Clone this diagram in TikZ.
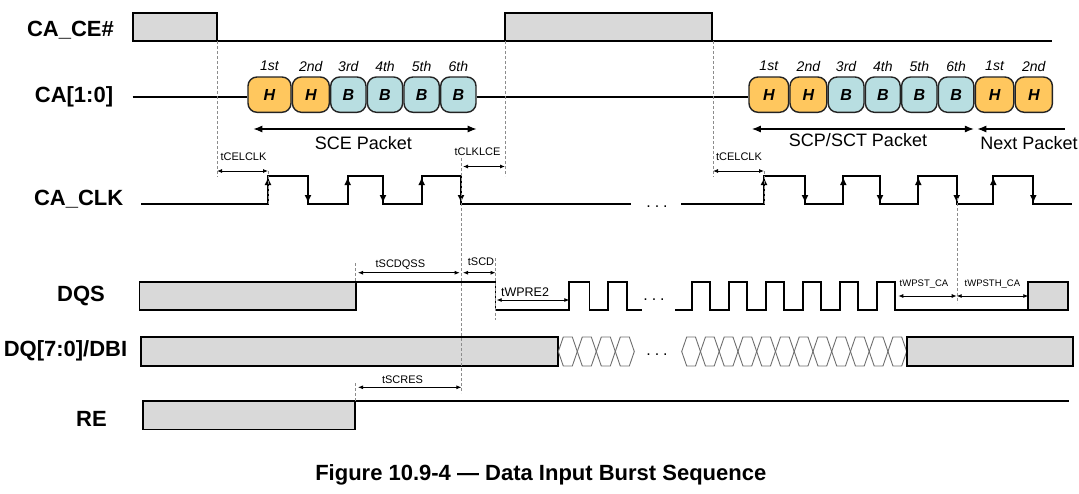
\documentclass[tikz,border=0pt]{standalone}
\usepackage{fontspec}
\setmainfont{Liberation Sans}
\usepackage{tikz}
\usetikzlibrary{arrows.meta}

\definecolor{busgray}{RGB}{217,217,217}
\definecolor{hfill}{RGB}{255,199,94}
\definecolor{bfill}{RGB}{184,222,225}
\definecolor{pillline}{RGB}{35,35,35}
\definecolor{hexgray}{RGB}{110,110,110}
\definecolor{guidegray}{RGB}{140,140,140}

\begin{document}
\begin{tikzpicture}[x=1pt,y=-1pt,
    sig/.style={line width=1.8pt},
    box/.style={line width=1.8pt, fill=busgray},
    caline/.style={line width=2.6pt},
    pill/.style={draw=pillline, line width=1.4pt, rounded corners=9pt},
    hex/.style={draw=hexgray, line width=0.9pt},
    guide/.style={draw=guidegray, line width=0.6pt, dash pattern=on 3pt off 2pt},
    tarr/.style={{Latex[length=5pt,width=4pt]}-{Latex[length=5pt,width=4pt]}, line width=0.8pt},
    parr/.style={{Latex[length=9pt,width=7pt]}-{Latex[length=9pt,width=7pt]}, line width=1.2pt},
    edgearr/.style={-{Latex[length=8pt,width=7pt]}, line width=1.6pt},
    lbl/.style={font=\fontsize{22}{26}\selectfont\bfseries, inner sep=0pt},
    tlbl/.style={font=\fontsize{11}{13}\selectfont, inner sep=0pt},
    ord/.style={font=\fontsize{14}{16}\selectfont\itshape, inner sep=0pt},
    plbl/.style={font=\fontsize{18}{21}\selectfont, inner sep=0pt},
    dots/.style={font=\fontsize{16}{18}\selectfont, inner sep=0pt, anchor=base}]

    \useasboundingbox (0,0) rectangle (1079,493);

    % Signal names
    \node[lbl] (nce)  at (70.5,30)  {CA\_CE\#};
    \node[lbl] (nca)  at (74,97)    {CA[1:0]};
    \node[lbl] (nclk) at (78.7,199) {CA\_CLK};
    \node[lbl] (ndqs) at (81,296)   {DQS};
    \node[lbl] (ndq)  at (65.5,351) {DQ[7:0]/DBI};
    \node[lbl] (nre)  at (91.5,419) {RE};

    % CA_CE#
    \draw[box] (132.6,13) rectangle (217,41);
    \draw[sig] (217,41) -- (505,41);
    \draw[box] (505,13) rectangle (712,41);
    \draw[sig] (712,41) -- (1052,41);

    % CA[1:0] packets
    \draw[caline] (132.6,97) -- (247.3,97);
    \draw[caline] (476.7,97) -- (748.3,97);
    \foreach \a/\b/\t/\n/\c in {247.3/291.7/H/1st/hfill, 291.7/330/H/2nd/hfill,
        330/366.7/B/3rd/bfill, 366.7/403.3/B/4th/bfill, 403.3/440/B/5th/bfill,
        440/476.7/B/6th/bfill, 748.3/789.3/H/1st/hfill, 789.3/827.5/H/2nd/hfill,
        827.5/864.7/B/3rd/bfill, 864.7/900.9/B/4th/bfill, 900.9/937.7/B/5th/bfill,
        937.7/974.6/B/6th/bfill, 974.6/1014.5/H/1st/hfill, 1014.5/1053.1/H/2nd/hfill} {
        \draw[pill, fill=\c] (\a+0.7,77) rectangle (\b-0.7,112.3);
        \node[font=\fontsize{16}{18}\selectfont\bfseries\itshape] (p\a) at ({(\a+\b)/2},95) {\t};
        \node[ord] (o\a) at ({(\a+\b)/2},66) {\n};
    }

    % packet extents
    \coordinate (sceL) at (253.3,129);
    \coordinate (sceR) at (476.7,129);
    \coordinate (scpL) at (751.8,129);
    \coordinate (scpR) at (973.9,129);
    \coordinate (nxtL) at (977.3,129);
    \coordinate (nxtR) at (1065,129);
    \draw[parr] (sceL) -- (sceR);
    \draw[parr] (scpL) -- (scpR);
    \draw[{Latex[length=9pt,width=7pt]}-, line width=1.2pt] (nxtL) -- (nxtR);
    \node[plbl] (sce) at (363.3,143.3) {SCE Packet};
    \node[plbl] (scp) at (858,140)     {SCP/SCT Packet};
    \node[plbl] (nxt) at (1029,142.7)  {Next Packet};

    % CA_CLK
    \draw[sig] (141.2,204) -- (268,204) -- (268,176) -- (308,176) -- (308,204)
        -- (347.7,204) -- (347.7,176) -- (383,176) -- (383,204) -- (421.7,204)
        -- (421.7,176) -- (461,176) -- (461,204) -- (631,204);
    \node[dots] (d1) at (657,207) {.\hspace{4pt}.\hspace{4pt}.};
    \draw[sig] (681,204) -- (764,204) -- (764,176) -- (805,176) -- (805,204)
        -- (843.3,204) -- (843.3,176) -- (880,176) -- (880,204) -- (918.3,204)
        -- (918.3,176) -- (956.7,176) -- (956.7,204) -- (993.3,204) -- (993.3,176)
        -- (1033.3,176) -- (1033.3,204) -- (1071.7,204);
    \foreach \x in {268,347.7,421.7,764,843.3,918.3,993.3}
        \draw[edgearr] (\x,197) -- (\x,177);
    \foreach \x in {308,383,461,805,880,956.7,1033.3}
        \draw[edgearr] (\x,183) -- (\x,203);

    % DQS
    \draw[box] (139.5,282) rectangle (355.7,310);
    \draw[sig] (355.7,282) -- (495.5,282) -- (495.5,310) -- (569.3,310) -- (569.3,282)
        -- (589.5,282) -- (589.5,310) -- (607.7,310) -- (607.7,282) -- (627.3,282)
        -- (627.3,310) -- (642.3,310);
    \node[dots] (d2) at (654,300) {.\hspace{4pt}.\hspace{4pt}.};
    \draw[sig] (675,310) foreach \r in {691.7,728.7,765.7,802.7,839.7,876.7} {
        -- (\r,310) -- (\r,282) -- (\r+18.5,282) -- (\r+18.5,310) } -- (1028.3,310);
    \draw[box] (1028.3,282) rectangle (1068.3,310);

    % DQ[7:0]/DBI
    \draw[box] (141.2,337) rectangle (558.3,366);
    \foreach \i in {0,...,3}
        \draw[hex] ({558.3+19*\i},351.5) -- ++(5,-14.5) -- ++(9,0) -- ++(5,14.5)
            -- ++(-5,14.5) -- ++(-9,0) -- cycle;
    \node[dots] (d3) at (657,355) {.\hspace{4pt}.\hspace{4pt}.};
    \foreach \i in {0,...,11}
        \draw[hex] ({681.7+18.75*\i},351.5) -- ++(5,-14.5) -- ++(8.75,0) -- ++(5,14.5)
            -- ++(-5,14.5) -- ++(-8.75,0) -- cycle;
    \draw[box] (906.7,337) rectangle (1072.7,366);

    % RE
    \draw[box] (143,401) rectangle (354.7,429.5);
    \draw[sig] (354.7,401) -- (1069,401);

    % guide lines
    \draw[guide] (217,41) -- (217,177);
    \draw[guide] (505,41) -- (505,176);
    \draw[guide] (713,41) -- (713,177);
    \draw[guide] (268,171) -- (268,204);
    \draw[guide] (764,171) -- (764,204);
    \draw[guide] (461.4,158) -- (461.4,393);
    \draw[guide] (957,198) -- (957,303);
    \draw[guide] (355.7,263) -- (355.7,283);
    \draw[guide] (355.7,383) -- (355.7,401);
    \draw[guide] (495.7,258) -- (495.7,320);

    % timing points
    \coordinate (ce1)  at (217,171);
    \coordinate (clk1) at (268,171);
    \coordinate (clk2) at (463,166.5);
    \coordinate (ce2)  at (505,166.5);
    \coordinate (ce3)  at (713,171);
    \coordinate (clk3) at (764,171);
    \coordinate (qs1)  at (358,272.7);
    \coordinate (qs2)  at (459.7,272.7);
    \coordinate (qs3)  at (463,272.7);
    \coordinate (qs4)  at (495.5,272.7);
    \coordinate (qs5)  at (496.7,300);
    \coordinate (qs6)  at (569.3,300);
    \coordinate (qs7)  at (898.3,296);
    \coordinate (qs8)  at (956.7,296);
    \coordinate (qs9)  at (1028.3,296);
    \coordinate (re1)  at (358,387.3);
    \coordinate (re2)  at (461.4,387.3);

    % timing parameters
    \draw[tarr] (ce1) -- (clk1);
    \node[tlbl] (tcel1) at (243.5,157) {tCELCLK};
    \draw[tarr] (clk2) -- (ce2);
    \node[tlbl] (tclk) at (477.5,152) {tCLKLCE};
    \draw[tarr] (ce3) -- (clk3);
    \node[tlbl] (tcel2) at (739,157) {tCELCLK};
    \draw[tarr] (qs1) -- (qs2);
    \node[tlbl] (tscdq) at (400.4,265) {tSCDQSS};
    \draw[tarr] (qs3) -- (qs4);
    \node[tlbl] (tscd) at (481,261.7) {tSCD};
    \draw[tarr] (qs5) -- (qs6);
    \node[font=\fontsize{12.5}{14}\selectfont, inner sep=0pt] (twpre) at (525,291.7) {tWPRE2};
    \draw[tarr] (qs7) -- (qs8);
    \node[font=\fontsize{9.5}{11}\selectfont, inner sep=0pt] (twpst) at (924,284.3) {tWPST\_CA};
    \draw[tarr] (qs8) -- (qs9);
    \node[font=\fontsize{9.5}{11}\selectfont, inner sep=0pt] (twpsth) at (992.4,284.3) {tWPSTH\_CA};
    \draw[tarr] (re1) -- (re2);
    \node[tlbl] (tscres) at (402.5,379.3) {tSCRES};

    % caption
    \node[lbl] (cap) at (540.8,475) {Figure 10.9-4 --- Data Input Burst Sequence};
\end{tikzpicture}
\end{document}
